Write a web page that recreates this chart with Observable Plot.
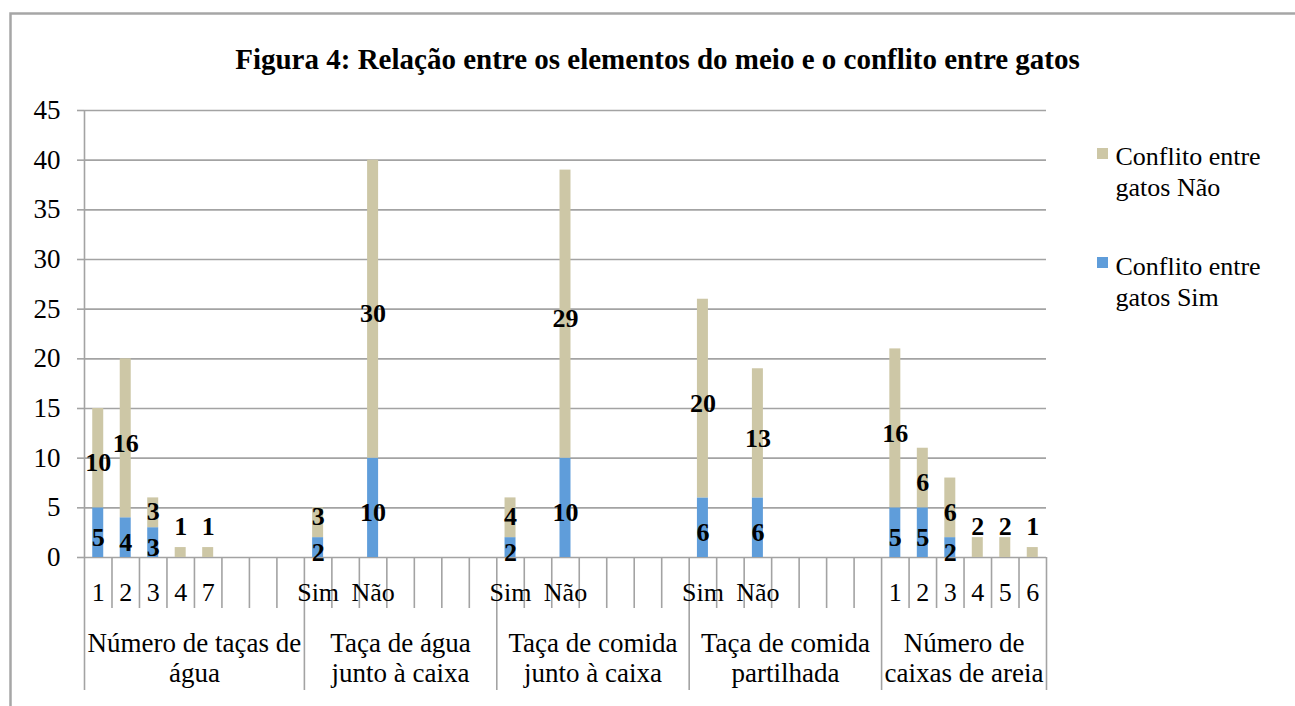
<!DOCTYPE html>
<html>
<head>
<meta charset="utf-8">
<script src="https://cdn.jsdelivr.net/npm/d3@7"></script>
<script src="https://cdn.jsdelivr.net/npm/@observablehq/plot@0.6"></script>
<style>
  html, body { margin: 0; padding: 0; background: #fff; }
  #chart { width: 1295px; height: 706px; overflow: hidden; }
</style>
</head>
<body>
<div id="chart"></div>
<script>
// ---- data ----
const title = "Figura 4: Relação entre os elementos do meio e o conflito entre gatos";
const seriesNames = ["Conflito entre gatos Sim", "Conflito entre gatos Não"];
const groupLabels = [
  "Número de taças de\nágua",
  "Taça de água\njunto à caixa",
  "Taça de comida\njunto à caixa",
  "Taça de comida\npartilhada",
  "Número de\ncaixas de areia"
];
const catsAgua = ["1", "2", "3", "4", "7", "", "", ""];
const catsAguaCaixa = ["Sim", "", "Não", "", "", "", ""];
const catsComidaCaixa = ["Sim", "", "Não", "", "", "", ""];
const catsComidaPartilhada = ["Sim", "", "Não", "", "", "", ""];
const catsAreia = ["1", "2", "3", "4", "5", "6"];
const categories = [catsAgua, catsAguaCaixa, catsComidaCaixa, catsComidaPartilhada, catsAreia];

const conflitoSim = [
  [5, 4, 3, 0, 0],
  [2, null, 10],
  [2, null, 10],
  [6, null, 6],
  [5, 5, 2, 0, 0, 0]
];
const conflitoNao = [
  [10, 16, 3, 1, 1],
  [3, null, 30],
  [4, null, 29],
  [20, null, 13],
  [16, 6, 6, 2, 2, 1]
];
const yTicks = [0, 5, 10, 15, 20, 25, 30, 35, 40, 45];

// ---- derived tables ----
const blue = "#5F9DDA", tan = "#CDC7A6", grid = "#a3a3a3";
const slots = [];      // {i, label}
const groupInfo = [];  // {start, size, label}
const bars = [];       // {i, series, y1, y2}
const labels = [];     // {i, y, text}
let idx = 0;
categories.forEach((cats, g) => {
  groupInfo.push({start: idx, size: cats.length, label: groupLabels[g]});
  cats.forEach((c, k) => {
    slots.push({i: idx, label: c});
    const s = conflitoSim[g][k], n = conflitoNao[g][k];
    if (s != null || n != null) {
      const sv = s || 0, nv = n || 0;
      bars.push({i: idx, series: seriesNames[0], y1: 0, y2: sv});
      bars.push({i: idx, series: seriesNames[1], y1: sv, y2: sv + nv});
      if (sv > 0) labels.push({i: idx, y: sv / 2, text: String(sv)});
      if (nv > 0) labels.push({i: idx, y: Math.max(sv + nv / 2, sv / 2 + 3.6), text: String(nv)});
    }
    idx++;
  });
});
const nSlots = idx;
const boundaries = [];
groupInfo.forEach(g => boundaries.push(g.start));
boundaries.push(nSlots);
const innerTicks = d3.range(0, nSlots + 1).filter(v => !boundaries.includes(v));

const chart = Plot.plot({
  width: 1295,
  height: 706,
  marginLeft: 84,
  marginRight: 249,
  marginTop: 110,
  marginBottom: 149,
  x: {type: "linear", domain: [0, nSlots], axis: null},
  y: {domain: [0, 45], axis: null},
  color: {domain: seriesNames, range: [blue, tan]},
  style: {fontFamily: "'Liberation Serif', 'Times New Roman', serif", background: "#fff", color: "#000", overflow: "visible"},
  marks: [
    Plot.ruleY(yTicks, {stroke: grid, strokeWidth: 1.6}),
    Plot.axisY({ticks: yTicks, tickSize: 7, tickPadding: 17, stroke: grid, strokeWidth: 1.6, fontSize: 27, fill: "#000", tickFormat: d => String(d)}),
    Plot.ruleX([0], {stroke: grid, strokeWidth: 1.6}),
    Plot.ruleX(innerTicks, {x: d => d, y1: 0, y2: 0, insetBottom: -51, stroke: grid, strokeWidth: 1.6}),
    Plot.ruleX(boundaries, {x: d => d, y1: 0, y2: 0, insetBottom: -133, stroke: grid, strokeWidth: 1.6}),
    Plot.rect(bars, {x1: d => d.i + 0.3, x2: d => d.i + 0.7, y1: "y1", y2: "y2", fill: "series"}),
    Plot.text(labels, {x: d => d.i + 0.5, y: "y", text: "text", dy: 5, fontSize: 26, fontWeight: "bold", fill: "#000"}),
    Plot.text(slots, {x: d => d.i + 0.5, y: () => 0, text: "label", dy: 43, lineAnchor: "bottom", fontSize: 26, fill: "#000"}),
    Plot.text(groupInfo, {x: d => d.start + d.size / 2, y: () => 0, text: "label", dy: 124, lineAnchor: "bottom", lineHeight: 30 / 27, fontSize: 27, fill: "#000"}),
    Plot.text([title], {frameAnchor: "top", dx: 92, dy: -42, lineAnchor: "bottom", fontSize: 29, fontWeight: "bold", fill: "#000"}),
    Plot.dot([seriesNames[1]], {frameAnchor: "top-right", dx: 56, dy: 43, symbol: "square", r: 6.2, fill: tan, stroke: "none"}),
    Plot.text([seriesNames[1].replace("entre gatos", "entre\ngatos")], {frameAnchor: "top-right", dx: 69, dy: 85, textAnchor: "start", lineAnchor: "bottom", lineHeight: 31 / 26, fontSize: 26, fill: "#000"}),
    Plot.dot([seriesNames[0]], {frameAnchor: "top-right", dx: 56, dy: 152, symbol: "square", r: 6.2, fill: blue, stroke: "none"}),
    Plot.text([seriesNames[0].replace("entre gatos", "entre\ngatos")], {frameAnchor: "top-right", dx: 69, dy: 195, textAnchor: "start", lineAnchor: "bottom", lineHeight: 31 / 26, fontSize: 26, fill: "#000"})
  ]
});

d3.select(chart).append("rect")
  .attr("x", 10.5).attr("y", 13.5).attr("width", 1400).attr("height", 800)
  .attr("fill", "none").attr("stroke", "#a6a6a6").attr("stroke-width", 2.5);

document.getElementById("chart").appendChild(chart);
</script>
</body>
</html>
